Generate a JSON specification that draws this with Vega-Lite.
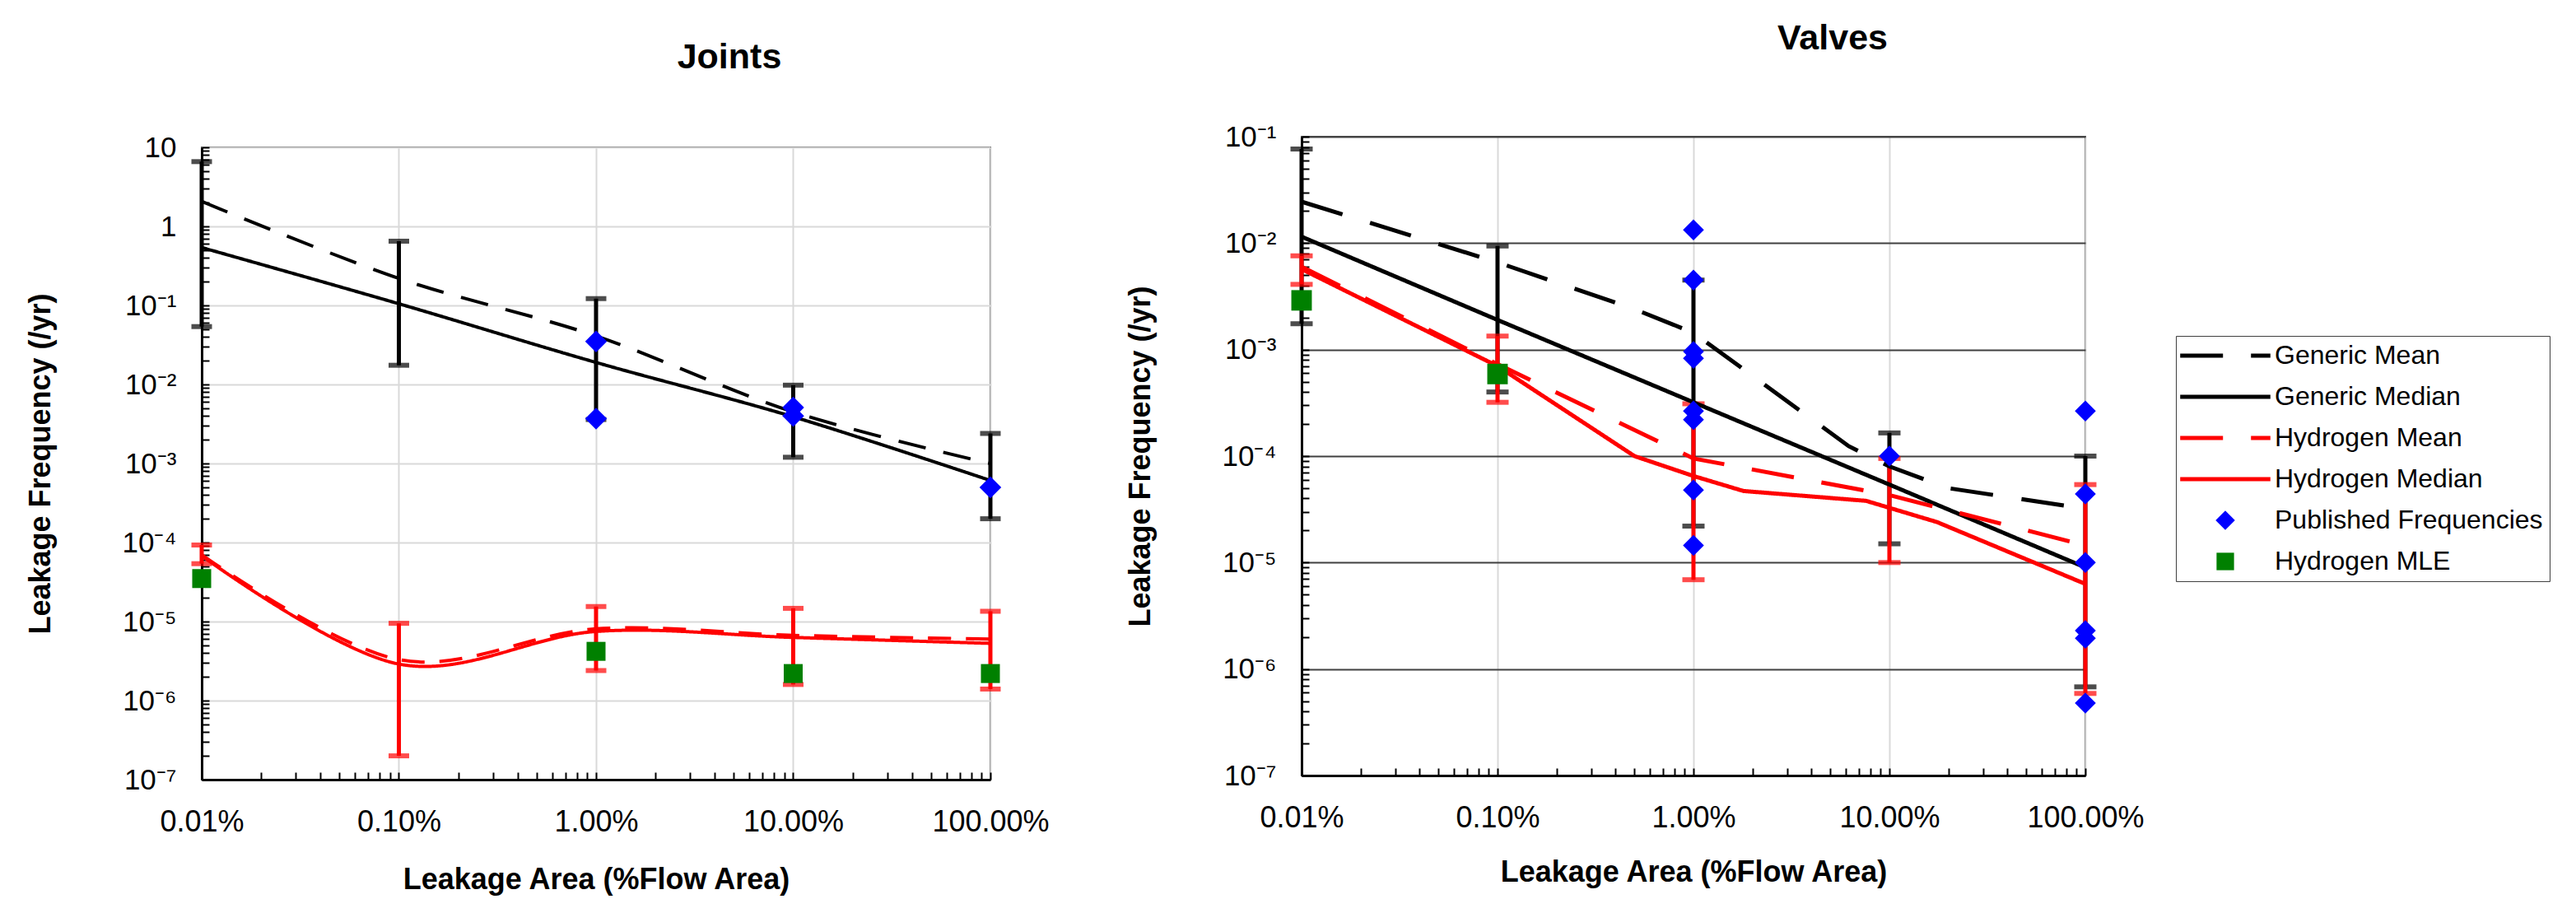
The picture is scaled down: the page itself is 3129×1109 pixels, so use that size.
{
  "$schema": "https://vega.github.io/schema/vega-lite/v6.json",
  "background": "white",
  "padding": {"left": 30, "top": 5, "right": 10, "bottom": 10},
  "spacing": 90,
  "config": {
    "font": "Liberation Sans",
    "view": {"stroke": "#555555", "strokeWidth": 2},
    "axis": {
      "labelFont": "Liberation Sans",
      "labelColor": "black",
      "titleFont": "Liberation Sans",
      "titleFontWeight": "bold",
      "titleFontSize": 36,
      "titleColor": "black",
      "domainColor": "black",
      "domainWidth": 3,
      "tickColor": "black",
      "tickWidth": 2,
      "tickSize": -9,
      "labelOverlap": false,
      "labelFlush": false,
      "labelBound": false
    },
    "axisX": {"labelFontSize": 36, "labelPadding": 43, "titlePadding": 31},
    "axisY": {"labelFontSize": 35, "labelPadding": 40, "titlePadding": 80},
    "title": {"font": "Liberation Sans", "fontSize": 43, "fontWeight": "bold", "color": "black", "frame": "group", "anchor": "middle"}
  },
  "resolve": {
    "scale": {"x": "independent", "y": "independent", "color": "independent", "strokeDash": "independent"},
    "legend": {"color": "independent"}
  },
  "datasets": {
    "joints_lines": [
      {"pct": 0.01, "freq": 2.07, "series": "Generic Mean"},
      {"pct": 0.1, "freq": 0.22, "series": "Generic Mean"},
      {"pct": 1, "freq": 0.041, "series": "Generic Mean"},
      {"pct": 10, "freq": 0.0045, "series": "Generic Mean"},
      {"pct": 100, "freq": 0.001, "series": "Generic Mean"},
      {"pct": 0.01, "freq": 0.54, "series": "Generic Median"},
      {"pct": 0.1, "freq": 0.105, "series": "Generic Median"},
      {"pct": 1, "freq": 0.019, "series": "Generic Median"},
      {"pct": 10, "freq": 0.0039, "series": "Generic Median"},
      {"pct": 100, "freq": 0.00061, "series": "Generic Median"},
      {"pct": 0.01, "freq": 7.0e-5, "series": "Hydrogen Mean"},
      {"pct": 0.1, "freq": 3.3e-6, "series": "Hydrogen Mean"},
      {"pct": 1, "freq": 8.1e-6, "series": "Hydrogen Mean"},
      {"pct": 10, "freq": 6.7e-6, "series": "Hydrogen Mean"},
      {"pct": 100, "freq": 6.0e-6, "series": "Hydrogen Mean"},
      {"pct": 0.01, "freq": 6.8e-5, "series": "Hydrogen Median"},
      {"pct": 0.1, "freq": 2.9e-6, "series": "Hydrogen Median"},
      {"pct": 1, "freq": 7.5e-6, "series": "Hydrogen Median"},
      {"pct": 10, "freq": 6.3e-6, "series": "Hydrogen Median"},
      {"pct": 100, "freq": 5.3e-6, "series": "Hydrogen Median"}
    ],
    "joints_err": [
      {"pct": 0.01, "lo": 0.054, "hi": 6.6, "group": "Generic"},
      {"pct": 0.1, "lo": 0.0175, "hi": 0.65, "group": "Generic"},
      {"pct": 1, "lo": 0.0036, "hi": 0.122, "group": "Generic"},
      {"pct": 10, "lo": 0.0012, "hi": 0.0098, "group": "Generic"},
      {"pct": 100, "lo": 0.0002, "hi": 0.0024, "group": "Generic"},
      {"pct": 0.01, "lo": 5.4e-5, "hi": 9.3e-5, "group": "Hydrogen"},
      {"pct": 0.1, "lo": 2.0e-7, "hi": 9.5e-6, "group": "Hydrogen"},
      {"pct": 1, "lo": 2.4e-6, "hi": 1.55e-5, "group": "Hydrogen"},
      {"pct": 10, "lo": 1.6e-6, "hi": 1.47e-5, "group": "Hydrogen"},
      {"pct": 100, "lo": 1.4e-6, "hi": 1.35e-5, "group": "Hydrogen"}
    ],
    "joints_pts": [
      {"pct": 1, "freq": 0.035, "series": "Published Frequencies"},
      {"pct": 1, "freq": 0.0037, "series": "Published Frequencies"},
      {"pct": 10, "freq": 0.0051, "series": "Published Frequencies"},
      {"pct": 10, "freq": 0.004, "series": "Published Frequencies"},
      {"pct": 100, "freq": 0.0005, "series": "Published Frequencies"},
      {"pct": 0.01, "freq": 3.5e-5, "series": "Hydrogen MLE"},
      {"pct": 1, "freq": 4.2e-6, "series": "Hydrogen MLE"},
      {"pct": 10, "freq": 2.2e-6, "series": "Hydrogen MLE"},
      {"pct": 100, "freq": 2.2e-6, "series": "Hydrogen MLE"}
    ],
    "valves_lines": [
      {"pct": 0.01, "freq": 0.0245, "series": "Generic Mean"},
      {"pct": 0.1, "freq": 0.0066, "series": "Generic Mean"},
      {"pct": 0.5, "freq": 0.0024, "series": "Generic Mean"},
      {"pct": 1, "freq": 0.00144, "series": "Generic Mean"},
      {"pct": 6.2, "freq": 0.000124, "series": "Generic Mean"},
      {"pct": 10, "freq": 0.00008, "series": "Generic Mean"},
      {"pct": 20, "freq": 0.00005, "series": "Generic Mean"},
      {"pct": 100, "freq": 0.000032, "series": "Generic Mean"},
      {"pct": 0.01, "freq": 0.0115, "series": "Generic Median"},
      {"pct": 0.1, "freq": 0.0019, "series": "Generic Median"},
      {"pct": 1, "freq": 0.00032, "series": "Generic Median"},
      {"pct": 10, "freq": 0.000054, "series": "Generic Median"},
      {"pct": 100, "freq": 0.000009, "series": "Generic Median"},
      {"pct": 0.01, "freq": 0.006, "series": "Hydrogen Mean"},
      {"pct": 0.1, "freq": 0.00073, "series": "Hydrogen Mean"},
      {"pct": 1, "freq": 0.000095, "series": "Hydrogen Mean"},
      {"pct": 10, "freq": 0.000043, "series": "Hydrogen Mean"},
      {"pct": 100, "freq": 0.0000145, "series": "Hydrogen Mean"},
      {"pct": 0.01, "freq": 0.0057, "series": "Hydrogen Median"},
      {"pct": 0.1, "freq": 0.0007, "series": "Hydrogen Median"},
      {"pct": 0.5, "freq": 0.0001, "series": "Hydrogen Median"},
      {"pct": 1, "freq": 0.000065, "series": "Hydrogen Median"},
      {"pct": 1.8, "freq": 0.000047, "series": "Hydrogen Median"},
      {"pct": 7.6, "freq": 0.000038, "series": "Hydrogen Median"},
      {"pct": 17.5, "freq": 0.000024, "series": "Hydrogen Median"},
      {"pct": 100, "freq": 0.0000063, "series": "Hydrogen Median"}
    ],
    "valves_err": [
      {"pct": 0.01, "lo": 0.00175, "hi": 0.0766, "group": "Generic"},
      {"pct": 0.1, "lo": 0.0004, "hi": 0.0094, "group": "Generic"},
      {"pct": 1, "lo": 0.000022, "hi": 0.0045, "group": "Generic"},
      {"pct": 10, "lo": 0.000015, "hi": 0.000165, "group": "Generic"},
      {"pct": 100, "lo": 6.8e-7, "hi": 0.0001, "group": "Generic"},
      {"pct": 0.01, "lo": 0.0041, "hi": 0.0076, "group": "Hydrogen"},
      {"pct": 0.1, "lo": 0.00032, "hi": 0.00134, "group": "Hydrogen"},
      {"pct": 1, "lo": 6.9e-6, "hi": 0.00031, "group": "Hydrogen"},
      {"pct": 10, "lo": 0.00001, "hi": 0.000095, "group": "Hydrogen"},
      {"pct": 100, "lo": 5.9e-7, "hi": 0.000054, "group": "Hydrogen"}
    ],
    "valves_pts": [
      {"pct": 1, "freq": 0.0133, "series": "Published Frequencies"},
      {"pct": 1, "freq": 0.0045, "series": "Published Frequencies"},
      {"pct": 1, "freq": 0.00096, "series": "Published Frequencies"},
      {"pct": 1, "freq": 0.00083, "series": "Published Frequencies"},
      {"pct": 1, "freq": 0.000265, "series": "Published Frequencies"},
      {"pct": 1, "freq": 0.00022, "series": "Published Frequencies"},
      {"pct": 1, "freq": 0.000048, "series": "Published Frequencies"},
      {"pct": 1, "freq": 0.0000145, "series": "Published Frequencies"},
      {"pct": 10, "freq": 0.0001, "series": "Published Frequencies"},
      {"pct": 100, "freq": 0.000265, "series": "Published Frequencies"},
      {"pct": 100, "freq": 0.000044, "series": "Published Frequencies"},
      {"pct": 100, "freq": 0.00001, "series": "Published Frequencies"},
      {"pct": 100, "freq": 2.3e-6, "series": "Published Frequencies"},
      {"pct": 100, "freq": 1.95e-6, "series": "Published Frequencies"},
      {"pct": 100, "freq": 4.8e-7, "series": "Published Frequencies"},
      {"pct": 0.01, "freq": 0.0029, "series": "Hydrogen MLE"},
      {"pct": 0.1, "freq": 0.00059, "series": "Hydrogen MLE"}
    ]
  },
  "hconcat": [
    {
      "spacing": 41,
      "vconcat": [
        {
          "width": 1,
          "height": 1,
          "view": {"stroke": null},
          "data": {"values": [{"spacer": 1}]},
          "mark": {"type": "rule", "opacity": 0},
          "encoding": {}
        },
        {
          "width": 958,
          "height": 768,
          "title": {"text": "Joints", "dx": 162, "offset": 70},
          "encoding": {
            "x": {
              "field": "pct",
              "type": "quantitative",
              "scale": {"type": "log", "domain": [0.01, 100], "nice": false},
              "axis": {
                "title": "Leakage Area (%Flow Area)",
                "values": [0.01, 0.02, 0.03, 0.04, 0.05, 0.06, 0.07, 0.08, 0.09, 0.1, 0.2, 0.3, 0.4, 0.5, 0.6, 0.7, 0.8, 0.9, 1, 2, 3, 4, 5, 6, 7, 8, 9, 10, 20, 30, 40, 50, 60, 70, 80, 90, 100],
                "labelExpr": "abs(log(datum.value)/LN10 - round(log(datum.value)/LN10)) > 0.01 ? '' : format(datum.value, '.2f') + '%'",
                "titlePadding": 35,
                "gridColor": "#d9d9d9",
                "gridWidth": 2,
                "gridOpacity": {"condition": {"test": "abs(log(datum.value)/LN10 - round(log(datum.value)/LN10)) < 0.01", "value": 1}, "value": 0}
              }
            }
          },
          "layer": [
            {
              "data": {"name": "joints_err"},
              "transform": [{"filter": "datum.group === 'Generic'"}],
              "mark": {"type": "errorbar", "color": "black", "ticks": {"size": 25, "thickness": 6}, "rule": {"strokeWidth": 5}},
              "encoding": {
                "y": {"field": "lo", "type": "quantitative", "scale": {"type": "log", "domain": [1e-7, 10], "nice": false}, "axis": {"title": "Leakage Frequency (/yr)"}},
                "y2": {"field": "hi"}
              }
            },
            {
              "data": {"name": "joints_err"},
              "transform": [{"filter": "datum.group === 'Hydrogen'"}],
              "mark": {"type": "errorbar", "color": "red", "ticks": {"size": 25, "thickness": 6}, "rule": {"strokeWidth": 5}},
              "encoding": {
                "y": {"field": "lo", "type": "quantitative", "scale": {"type": "log", "domain": [1e-7, 10], "nice": false}, "axis": {"title": "Leakage Frequency (/yr)"}},
                "y2": {"field": "hi"}
              }
            },
            {
              "data": {"name": "joints_lines"},
              "mark": {"type": "line", "interpolate": "cardinal", "strokeWidth": 4},
              "encoding": {
                "y": {
                  "field": "freq",
                  "type": "quantitative",
                  "scale": {"type": "log", "domain": [1e-7, 10], "nice": false},
                  "axis": {
                    "title": "Leakage Frequency (/yr)",
                    "values": [1e-7, 2e-7, 3e-7, 4e-7, 5e-7, 6e-7, 7e-7, 8e-7, 9e-7, 1e-6, 2e-6, 3e-6, 4e-6, 5e-6, 6e-6, 7e-6, 8e-6, 9e-6, 1e-5, 2e-5, 3e-5, 4e-5, 5e-5, 6e-5, 7e-5, 8e-5, 9e-5, 1e-4, 2e-4, 3e-4, 4e-4, 5e-4, 6e-4, 7e-4, 8e-4, 9e-4, 0.001, 0.002, 0.003, 0.004, 0.005, 0.006, 0.007, 0.008, 0.009, 0.01, 0.02, 0.03, 0.04, 0.05, 0.06, 0.07, 0.08, 0.09, 0.1, 0.2, 0.3, 0.4, 0.5, 0.6, 0.7, 0.8, 0.9, 1, 2, 3, 4, 5, 6, 7, 8, 9, 10],
                    "labelExpr": "abs(log(datum.value)/LN10 - round(log(datum.value)/LN10)) > 0.01 ? '' : datum.value >= 1 ? format(datum.value, 'd') : '10⁻' + ['', '¹', '²', '³', '⁴', '⁵', '⁶', '⁷'][round(-log(datum.value)/LN10)]",
                    "gridColor": "#d9d9d9",
                    "gridWidth": 2,
                    "gridOpacity": {"condition": {"test": "abs(log(datum.value)/LN10 - round(log(datum.value)/LN10)) < 0.01", "value": 1}, "value": 0}
                  }
                },
                "color": {
                  "field": "series",
                  "type": "nominal",
                  "scale": {"domain": ["Generic Mean", "Generic Median", "Hydrogen Mean", "Hydrogen Median"], "range": ["black", "black", "red", "red"]},
                  "legend": null
                },
                "strokeDash": {
                  "field": "series",
                  "type": "nominal",
                  "scale": {"domain": ["Generic Mean", "Generic Median", "Hydrogen Mean", "Hydrogen Median"], "range": [[34, 22], [1, 0], [28, 18], [1, 0]]},
                  "legend": null
                }
              }
            },
            {
              "data": {"name": "joints_pts"},
              "transform": [{"filter": "datum.series === 'Published Frequencies'"}],
              "mark": {"type": "point", "shape": "diamond", "filled": true, "color": "#0000ff", "opacity": 1, "size": 700},
              "encoding": {
                "y": {"field": "freq", "type": "quantitative", "scale": {"type": "log", "domain": [1e-7, 10], "nice": false}, "axis": {"title": "Leakage Frequency (/yr)"}}
              }
            },
            {
              "data": {"name": "joints_pts"},
              "transform": [{"filter": "datum.series === 'Hydrogen MLE'"}],
              "mark": {"type": "point", "shape": "square", "filled": true, "color": "#008000", "opacity": 1, "size": 530},
              "encoding": {
                "y": {"field": "freq", "type": "quantitative", "scale": {"type": "log", "domain": [1e-7, 10], "nice": false}, "axis": {"title": "Leakage Frequency (/yr)"}}
              }
            }
          ]
        }
      ]
    },
    {
      "spacing": 18,
      "vconcat": [
        {
          "width": 1,
          "height": 1,
          "view": {"stroke": null},
          "data": {"values": [{"spacer": 1}]},
          "mark": {"type": "rule", "opacity": 0},
          "encoding": {}
        },
        {
          "width": 952,
          "height": 776,
          "title": {"text": "Valves", "dx": 169, "offset": 80},
          "encoding": {
            "x": {
              "field": "pct",
              "type": "quantitative",
              "scale": {"type": "log", "domain": [0.01, 100], "nice": false},
              "axis": {
                "title": "Leakage Area (%Flow Area)",
                "values": [0.01, 0.02, 0.03, 0.04, 0.05, 0.06, 0.07, 0.08, 0.09, 0.1, 0.2, 0.3, 0.4, 0.5, 0.6, 0.7, 0.8, 0.9, 1, 2, 3, 4, 5, 6, 7, 8, 9, 10, 20, 30, 40, 50, 60, 70, 80, 90, 100],
                "labelExpr": "abs(log(datum.value)/LN10 - round(log(datum.value)/LN10)) > 0.01 ? '' : format(datum.value, '.2f') + '%'",
                "gridColor": "#d9d9d9",
                "gridWidth": 2,
                "gridOpacity": {"condition": {"test": "abs(log(datum.value)/LN10 - round(log(datum.value)/LN10)) < 0.01", "value": 1}, "value": 0}
              }
            }
          },
          "layer": [
            {
              "data": {"name": "valves_err"},
              "transform": [{"filter": "datum.group === 'Generic'"}],
              "mark": {"type": "errorbar", "color": "black", "ticks": {"size": 27, "thickness": 6}, "rule": {"strokeWidth": 5}},
              "encoding": {
                "y": {"field": "lo", "type": "quantitative", "scale": {"type": "log", "domain": [1e-7, 0.1], "nice": false}, "axis": {"title": "Leakage Frequency (/yr)"}},
                "y2": {"field": "hi"}
              }
            },
            {
              "data": {"name": "valves_err"},
              "transform": [{"filter": "datum.group === 'Hydrogen'"}],
              "mark": {"type": "errorbar", "color": "red", "ticks": {"size": 27, "thickness": 6}, "rule": {"strokeWidth": 5}},
              "encoding": {
                "y": {"field": "lo", "type": "quantitative", "scale": {"type": "log", "domain": [1e-7, 0.1], "nice": false}, "axis": {"title": "Leakage Frequency (/yr)"}},
                "y2": {"field": "hi"}
              }
            },
            {
              "data": {"name": "valves_lines"},
              "mark": {"type": "line", "strokeWidth": 5},
              "encoding": {
                "y": {
                  "field": "freq",
                  "type": "quantitative",
                  "scale": {"type": "log", "domain": [1e-7, 0.1], "nice": false},
                  "axis": {
                    "title": "Leakage Frequency (/yr)",
                    "values": [1e-7, 2e-7, 3e-7, 4e-7, 5e-7, 6e-7, 7e-7, 8e-7, 9e-7, 1e-6, 2e-6, 3e-6, 4e-6, 5e-6, 6e-6, 7e-6, 8e-6, 9e-6, 1e-5, 2e-5, 3e-5, 4e-5, 5e-5, 6e-5, 7e-5, 8e-5, 9e-5, 1e-4, 2e-4, 3e-4, 4e-4, 5e-4, 6e-4, 7e-4, 8e-4, 9e-4, 0.001, 0.002, 0.003, 0.004, 0.005, 0.006, 0.007, 0.008, 0.009, 0.01, 0.02, 0.03, 0.04, 0.05, 0.06, 0.07, 0.08, 0.09, 0.1],
                    "labelExpr": "abs(log(datum.value)/LN10 - round(log(datum.value)/LN10)) > 0.01 ? '' : '10⁻' + ['', '¹', '²', '³', '⁴', '⁵', '⁶', '⁷'][round(-log(datum.value)/LN10)]",
                    "gridColor": "#404040",
                    "gridWidth": 2,
                    "gridOpacity": {"condition": {"test": "abs(log(datum.value)/LN10 - round(log(datum.value)/LN10)) < 0.01", "value": 1}, "value": 0}
                  }
                },
                "color": {
                  "field": "series",
                  "type": "nominal",
                  "scale": {
                    "domain": ["Generic Mean", "Generic Median", "Hydrogen Mean", "Hydrogen Median", "Published Frequencies", "Hydrogen MLE"],
                    "range": ["black", "black", "red", "red", "#0000ff", "#008000"]
                  },
                  "legend": {
                    "title": null,
                    "orient": "none",
                    "legendX": 1062,
                    "legendY": 402,
                    "padding": 8,
                    "strokeColor": "#404040",
                    "labelFont": "Liberation Sans",
                    "labelFontSize": 32,
                    "labelColor": "black",
                    "labelLimit": 0,
                    "symbolSize": 500,
                    "symbolOffset": 36,
                    "labelOffset": 44,
                    "rowPadding": 18,
                    "symbolType": {"expr": "datum.value === 'Published Frequencies' ? 'M0,-1.05L1.05,0L0,1.05L-1.05,0Z' : datum.value === 'Hydrogen MLE' ? 'M-0.95,-0.95H0.95V0.95H-0.95Z' : 'M-4.9,0H4.9'"},
                    "symbolFillColor": {"expr": "datum.value === 'Published Frequencies' ? '#0000ff' : datum.value === 'Hydrogen MLE' ? '#008000' : 'transparent'"},
                    "symbolStrokeWidth": {"expr": "(datum.value === 'Published Frequencies' || datum.value === 'Hydrogen MLE') ? 0 : 5"},
                    "symbolDash": {"expr": "indexof(datum.value, 'Mean') >= 0 ? [52, 34] : [1, 0]"}
                  }
                },
                "strokeDash": {
                  "field": "series",
                  "type": "nominal",
                  "scale": {"domain": ["Generic Mean", "Generic Median", "Hydrogen Mean", "Hydrogen Median"], "range": [[52, 35], [1, 0], [52, 34], [1, 0]]},
                  "legend": null
                }
              }
            },
            {
              "data": {"name": "valves_pts"},
              "transform": [{"filter": "datum.series === 'Published Frequencies'"}],
              "mark": {"type": "point", "shape": "diamond", "filled": true, "color": "#0000ff", "opacity": 1, "size": 650},
              "encoding": {
                "y": {"field": "freq", "type": "quantitative", "scale": {"type": "log", "domain": [1e-7, 0.1], "nice": false}, "axis": {"title": "Leakage Frequency (/yr)"}}
              }
            },
            {
              "data": {"name": "valves_pts"},
              "transform": [{"filter": "datum.series === 'Hydrogen MLE'"}],
              "mark": {"type": "point", "shape": "square", "filled": true, "color": "#008000", "opacity": 1, "size": 620},
              "encoding": {
                "y": {"field": "freq", "type": "quantitative", "scale": {"type": "log", "domain": [1e-7, 0.1], "nice": false}, "axis": {"title": "Leakage Frequency (/yr)"}}
              }
            }
          ]
        }
      ]
    }
  ]
}
